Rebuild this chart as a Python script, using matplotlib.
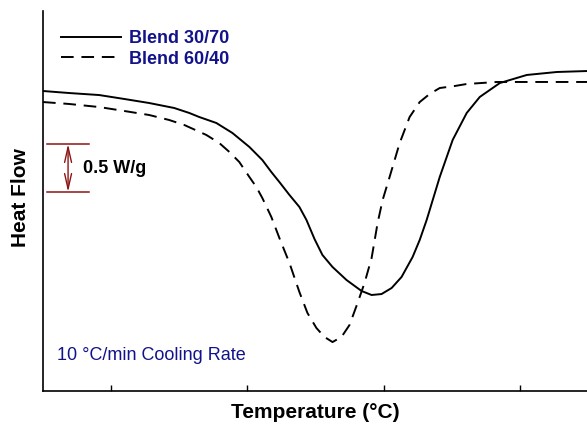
import matplotlib
matplotlib.use("Agg")
import matplotlib.pyplot as plt

plt.rcParams['font.family'] = ['Liberation Sans', 'DejaVu Sans']

# Temperature (arbitrary °C scale) and heat flow (W/g)
temp_3070 = [55.00, 56.91, 59.12, 60.96, 62.79, 64.63, 65.74, 66.47, 67.72, 68.90,
             70.15, 71.10, 71.76, 72.35, 73.09, 73.82, 74.34, 74.93, 75.51, 76.25,
             77.28, 78.38, 79.12, 79.85, 80.59, 81.32, 82.13, 82.65, 83.16, 84.12,
             85.07, 86.10, 87.06, 88.53, 90.51, 92.72, 94.93]
flow_3070 = [3.125, 3.104, 3.083, 3.042, 3.000, 2.948, 2.896, 2.854, 2.792, 2.688,
             2.542, 2.406, 2.281, 2.177, 2.042, 1.917, 1.781, 1.583, 1.417, 1.292,
             1.156, 1.042, 1.000, 1.010, 1.073, 1.188, 1.396, 1.573, 1.781, 2.229,
             2.615, 2.896, 3.063, 3.208, 3.292, 3.323, 3.333]

temp_6040 = [55.00, 56.91, 59.12, 60.96, 62.79, 64.26, 65.37, 66.99, 67.94, 68.68,
             69.41, 70.15, 70.66, 71.10, 71.76, 72.35, 73.09, 73.82, 74.41, 75.07,
             75.66, 76.25, 76.91, 77.50, 78.09, 78.60, 79.12, 79.56, 79.93, 80.44,
             81.18, 81.91, 82.65, 83.38, 84.12, 85.22, 86.10, 88.31, 91.47, 94.93]
flow_6040 = [3.010, 2.990, 2.958, 2.917, 2.875, 2.823, 2.771, 2.667, 2.583, 2.490,
             2.385, 2.229, 2.125, 2.010, 1.813, 1.594, 1.333, 1.031, 0.813, 0.656,
             0.563, 0.510, 0.563, 0.688, 0.917, 1.125, 1.385, 1.750, 1.990, 2.229,
             2.583, 2.854, 3.010, 3.094, 3.156, 3.177, 3.198, 3.219, 3.219, 3.219]

labels = ["Blend 30/70", "Blend 60/40"]
x_ticks = [60, 70, 80, 90]
scale_bar = (2.073, 2.573)  # 0.5 W/g

navy = '#12128a'
darkred = '#8b1414'

fig = plt.figure(figsize=(5.87, 4.26), dpi=100)
ax = fig.add_axes([43/587, 1 - 391/426, 1 - 43/587, (391 - 11)/426])

ax.plot(temp_3070, flow_3070, color='black', lw=1.4, label=labels[0],
        solid_joinstyle='round')
ax.plot(temp_6040, flow_6040, color='black', lw=1.4, dashes=(6.5, 4), label=labels[1],
        dash_joinstyle='round')

ax.set_xlim(55.0, 94.93)
ax.set_ylim(0, 380/96)
ax.set_xticks(x_ticks)
ax.set_xticklabels([])
ax.set_yticks([])
ax.tick_params(axis='x', direction='in', length=4.5, width=1.0)
for s in ['top', 'right']:
    ax.spines[s].set_visible(False)
for s in ['left', 'bottom']:
    ax.spines[s].set_linewidth(1.2)

# legend
leg = ax.legend(loc='upper left', bbox_to_anchor=(2/543, 0.993), frameon=False,
                prop={'weight': 'bold', 'size': 13}, labelcolor=navy,
                handlelength=3.3, handletextpad=0.45, labelspacing=0.2)

# scale bar
x0, x1, xa = 55.29, 58.38, 56.84
for yv in scale_bar:
    ax.plot([x0, x1], [yv, yv], color=darkred, lw=1.1)
ax.annotate('', xy=(xa, scale_bar[1]), xytext=(xa, scale_bar[0]),
            arrowprops=dict(arrowstyle='<->,head_length=1.1,head_width=0.25',
                            color=darkred, lw=1.0, shrinkA=0, shrinkB=0))
ax.text(57.9, 2.32, '0.5 W/g', fontsize=13, fontweight='bold', va='center', ha='left')

ax.text(56.05, (391 - 356)/96, '10 °C/min Cooling Rate', fontsize=13, color=navy,
        va='center', ha='left')

fig.text(315/587, 1 - 413/426, 'Temperature (°C)', fontsize=15, fontweight='bold',
         ha='center', va='center')
fig.text(21/587, 1 - 198/426, 'Heat Flow', fontsize=15, fontweight='bold',
         ha='center', va='center', rotation=90)

fig.savefig('out.png', dpi=100)
